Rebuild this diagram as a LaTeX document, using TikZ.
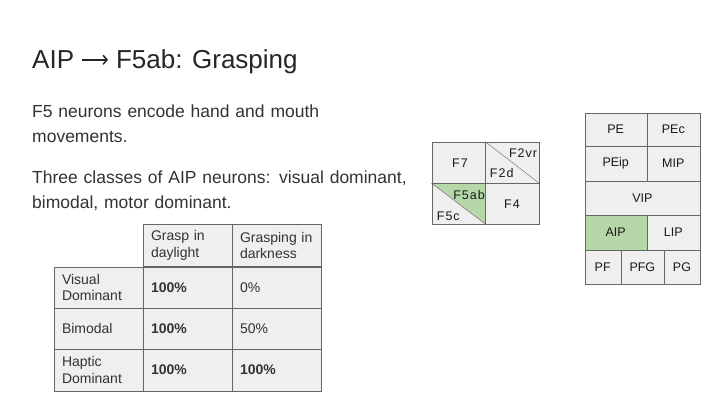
\documentclass[tikz,border=0pt]{standalone}
\usepackage{fontspec}
\setmainfont{Liberation Sans}
\usetikzlibrary{arrows.meta}
\definecolor{cellgray}{HTML}{EFEFEF}
\definecolor{linegray}{HTML}{666666}
\definecolor{areagreen}{HTML}{B6D7A8}
\definecolor{inkgray}{HTML}{333333}
\begin{document}
\begin{tikzpicture}[x=1pt,y=-1pt,
    a/.style={draw=linegray,thin},
    lab/.style={font=\fontsize{12.5}{14}\selectfont,inner sep=0pt,text=black!90},
    flab/.style={lab,font=\fontsize{12.5}{14}\selectfont\addfontfeature{LetterSpace=8}},
    body/.style={anchor=base west,inner sep=0pt,text width=400pt,align=left,text=inkgray,font=\fontsize{17.5}{25}\selectfont},
    c/.style={draw=linegray,fill=cellgray,anchor=north west,minimum width=89pt,minimum height=41.5pt,
      text width=74pt,inner xsep=7.5pt,align=left,text=inkgray,font=\fontsize{14}{16.5}\selectfont}]
    \useasboundingbox (0,0) rectangle (720,405);

    \node[anchor=base west,inner sep=0pt,text=black!85,font=\fontsize{26}{30}\selectfont] (title) at (32,68.3)
      {AIP \tikz[baseline=0pt]{\draw[line width=1.5pt,-{Straight Barb[length=4pt,width=9pt]}] (0pt,8.5pt) -- (26pt,8.5pt);} F5ab: Grasping};
    \node[body] (p1) at (32,117.7) {F5 neurons encode hand and mouth\\movements.};
    \node[body] (p2) at (32,183.3) {Three classes of AIP neurons: visual dominant,\\bimodal, motor dominant.};

    % table
    \node[c] (hday) at (143.3,224.3) {Grasp in\\daylight};
    \node[c,minimum width=87.7pt] (hdark) at (232.3,224.3) {Grasping in\\darkness};
    \node[c] (vis) at (54.3,266.7) {Visual\\Dominant};
    \node[c] (visday) at (143.3,266.7) {\textbf{100\%}};
    \node[c,minimum width=87.7pt] (visdark) at (232.3,266.7) {0\%};
    \node[c] (bim) at (54.3,307.7) {Bimodal};
    \node[c] (bimday) at (143.3,307.7) {\textbf{100\%}};
    \node[c,minimum width=87.7pt] (bimdark) at (232.3,307.7) {50\%};
    \node[c] (hap) at (54.3,349) {Haptic\\Dominant};
    \node[c] (hapday) at (143.3,349) {\textbf{100\%}};
    \node[c,minimum width=87.7pt] (hapdark) at (232.3,349) {\textbf{100\%}};

    % frontal map
    \draw[a,fill=cellgray] (431.7,141.7) rectangle (539.3,224);
    \filldraw[a,fill=areagreen] (431.7,183.3) -- (485.3,183.3) -- (485.3,224) -- cycle;
    \draw[a] (485.3,141.7) -- (485.3,224);
    \draw[a] (431.7,183.3) -- (539.3,183.3);
    \draw[a] (485.3,141.7) -- (539.3,183.3);
    \node[flab] (F7) at (460,163.3) {F7};
    \node[flab] (F2vr) at (523,152.7) {F2vr};
    \node[flab] (F2d) at (501.7,172.7) {F2d};
    \node[flab] (F5ab) at (469,195) {F5ab};
    \node[flab] (F5c) at (448.3,216) {F5c};
    \node[flab] (F4) at (512,204) {F4};

    % parietal map
    \foreach \xa/\ya/\xb/\yb/\t/\f in {584.7/112.7/646.7/146/PE/cellgray,646.7/112.7/700/146/PEc/cellgray,
        584.7/146/646.7/181.3/PEip/cellgray,646.7/146/700/181.3/MIP/cellgray,
        584.7/181.3/700/215.3/VIP/cellgray,
        584.7/215.3/646.7/250/AIP/areagreen,646.7/215.3/700/250/LIP/cellgray,
        584.7/250/620.7/284/PF/cellgray,620.7/250/664/284/PFG/cellgray,664/250/700/284/PG/cellgray}{
      \draw[a,fill=\f] (\xa,\ya) rectangle (\xb,\yb);
      \node[lab] (\t) at ({(\xa+\xb)/2},{(\ya+\yb)/2}) {\t};
    }
\end{tikzpicture}
\end{document}
